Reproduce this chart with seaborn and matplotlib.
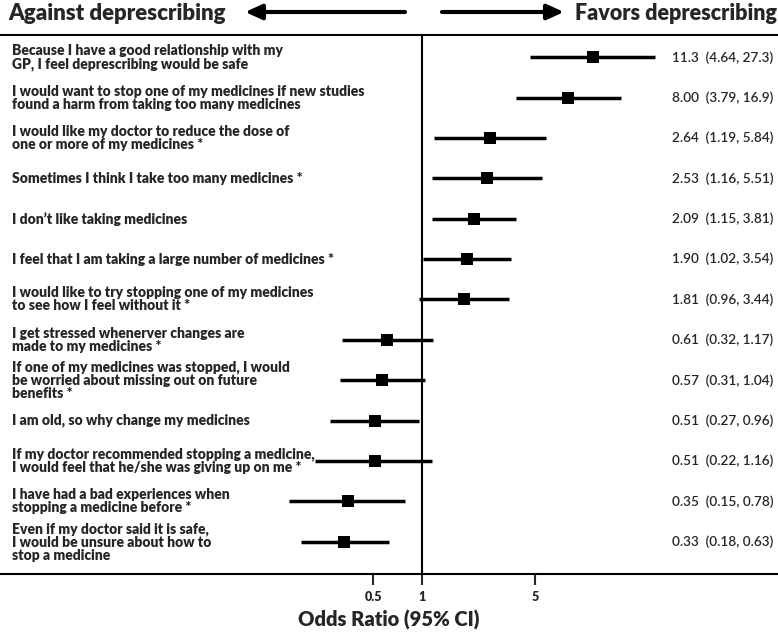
import numpy as np
import pandas as pd
import matplotlib
matplotlib.use("Agg")
import matplotlib.pyplot as plt
import seaborn as sns

# data
statements = [
    "Because I have a good relationship with my\nGP, I feel deprescribing would be safe",
    "I would want to stop one of my medicines if new studies\nfound a harm from taking too many medicines",
    "I would like my doctor to reduce the dose of\none or more of my medicines *",
    "Sometimes I think I take too many medicines *",
    "I don\u2019t like taking medicines",
    "I feel that I am taking a large number of medicines *",
    "I would like to try stopping one of my medicines\nto see how I feel without it *",
    "I get stressed whenerver changes are\nmade to my medicines *",
    "If one of my medicines was stopped, I would\nbe worried about missing out on future\nbenefits *",
    "I am old, so why change my medicines",
    "If my doctor recommended stopping a medicine,\nI would feel that he/she was giving up on me *",
    "I have had a bad experiences when\nstopping a medicine before *",
    "Even if my doctor said it is safe,\nI would be unsure about how to\nstop a medicine",
]
odds_ratio = [11.3, 8.00, 2.64, 2.53, 2.09, 1.90, 1.81, 0.61, 0.57, 0.51, 0.51, 0.35, 0.33]
ci_low = [4.64, 3.79, 1.19, 1.16, 1.15, 1.02, 0.96, 0.32, 0.31, 0.27, 0.22, 0.15, 0.18]
ci_high = [27.3, 16.9, 5.84, 5.51, 3.81, 3.54, 3.44, 1.17, 1.04, 0.96, 1.16, 0.78, 0.63]
or_text = ["11.3", "8.00", "2.64", "2.53", "2.09", "1.90", "1.81", "0.61", "0.57", "0.51", "0.51", "0.35", "0.33"]
ci_text = ["(4.64, 27.3)", "(3.79, 16.9)", "(1.19, 5.84)", "(1.16, 5.51)", "(1.15, 3.81)", "(1.02, 3.54)",
           "(0.96, 3.44)", "(0.32, 1.17)", "(0.31, 1.04)", "(0.27, 0.96)", "(0.22, 1.16)", "(0.15, 0.78)",
           "(0.18, 0.63)"]
tick_vals = [0.5, 1, 5]
tick_labels = ["0.5", "1", "5"]

df = pd.DataFrame({"statement": statements, "OR": odds_ratio, "lo": ci_low, "hi": ci_high})
df["row"] = np.arange(len(df))

sns.set_theme(style="white")
plt.rcParams['font.family'] = ['Lato', 'DejaVu Sans']

fig = plt.figure(figsize=(7.78, 6.33), dpi=100)
ax = fig.add_axes([0, 1 - 574/633, 1, (574-35)/633])

# confidence intervals and point estimates
ax.hlines(df["row"], df["lo"], df["hi"], color="black", lw=2.5, zorder=2)
sns.scatterplot(data=df, x="OR", y="row", marker="s", s=80, color="black",
                edgecolor="black", linewidth=0, ax=ax, zorder=3)
ax.axvline(1, color="black", lw=1.5, zorder=1)

ax.set_xscale("log")
ax.set_xlim(10**(-422/162), 10**((778-422)/162))
ax.set_ylim(12.8, -0.55)

ax.set_yticks([])
ax.set_xticks(tick_vals)
ax.set_xticklabels(tick_labels, fontsize=9, fontweight="heavy")
ax.xaxis.set_minor_locator(matplotlib.ticker.NullLocator())
ax.tick_params(axis="x", direction="out", length=8, width=1.5, bottom=True, pad=4)
ax.set_xlabel("Odds Ratio (95% CI)", fontsize=14.5, fontweight="heavy", labelpad=5)
ax.set_ylabel("")

for side in ["left", "right"]:
    ax.spines[side].set_visible(False)
for side in ["top", "bottom"]:
    ax.spines[side].set_linewidth(1.5)
    ax.spines[side].set_color("black")

trans = matplotlib.transforms.blended_transform_factory(ax.transAxes, ax.transData)
for i, row in df.iterrows():
    ax.text(12/778, row["row"], row["statement"], transform=trans, ha="left", va="center",
            fontsize=10, fontweight="heavy", linespacing=1.0)
    ax.text(672/778, row["row"], or_text[i] + "  " + ci_text[i], transform=trans,
            ha="left", va="center", fontsize=9.8, fontweight="semibold")

# header with arrows
fig.text(8/778, 1-14/633, "Against deprescribing", ha="left", va="center",
         fontsize=16, fontweight="heavy")
fig.text(777/778, 1-14/633, "Favors deprescribing", ha="right", va="center",
         fontsize=15.5, fontweight="heavy")
arrow = dict(arrowstyle="-|>,head_length=1.0,head_width=0.45", color="black", lw=3,
             mutation_scale=10, shrinkA=0, shrinkB=0)
ax.annotate("", xy=(245/778, 1-12/633), xytext=(405/778, 1-12/633),
            xycoords="figure fraction", textcoords="figure fraction", arrowprops=arrow)
ax.annotate("", xy=(564/778, 1-12/633), xytext=(442/778, 1-12/633),
            xycoords="figure fraction", textcoords="figure fraction", arrowprops=arrow)

fig.savefig("out.png", dpi=100)
